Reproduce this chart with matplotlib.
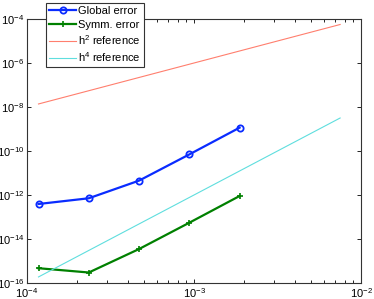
import numpy as np
import matplotlib
matplotlib.use("Agg")
import matplotlib.pyplot as plt
from matplotlib.ticker import LogLocator, LogFormatterMathtext, NullLocator

plt.rcParams['font.family'] = ['Liberation Sans', 'DejaVu Sans']
plt.rcParams['mathtext.fontset'] = 'custom'
plt.rcParams['mathtext.rm'] = 'Liberation Sans'
plt.rcParams['mathtext.it'] = 'Liberation Sans'

# step sizes
h_ref = [7.5e-3, 3.75e-3, 1.875e-3, 9.375e-4, 4.6875e-4, 2.34375e-4, 1.171875e-4]
h_err = [1.171875e-4, 2.34375e-4, 4.6875e-4, 9.375e-4, 1.875e-3]

# errors
global_err = [3.9e-13, 7.1e-13, 4.5e-12, 7.0e-11, 1.15e-9]
symm_err = [4.7e-16, 3.0e-16, 3.5e-15, 5.5e-14, 9.0e-13]

h2_ref = [h ** 2 for h in h_ref]
h4_ref = [h ** 4 for h in h_ref]

fig = plt.figure(figsize=(3.74, 2.99), dpi=100)
ax = fig.add_axes([27 / 374, 1 - 283 / 299, (361 - 27) / 374, (283 - 19) / 299])

ax.loglog(h_err, global_err, '-o', color='#0a2cff', lw=1.6, ms=4.5,
          mfc='none', mew=1.3, label='Global error')
ax.loglog(h_err, symm_err, '-+', color='#008000', lw=1.6, ms=5,
          mew=1.2, label='Symm. error')
ax.loglog(h_ref, h2_ref, '-', color='#ff7f6e', lw=0.8, label='$\\mathregular{h^2}$ reference')
ax.loglog(h_ref, h4_ref, '-', color='#5fdede', lw=0.8, label='$\\mathregular{h^4}$ reference')

ax.set_xlim(1e-4, 1e-2)
ax.set_ylim(1e-16, 1e-4)
ax.set_yticks([1e-16, 1e-14, 1e-12, 1e-10, 1e-8, 1e-6, 1e-4])
ax.yaxis.set_minor_locator(NullLocator())
ax.xaxis.set_major_locator(LogLocator(base=10, numticks=10))
ax.xaxis.set_minor_locator(LogLocator(base=10, subs=np.arange(2, 10), numticks=20))
ax.xaxis.set_major_formatter(LogFormatterMathtext())
ax.yaxis.set_major_formatter(LogFormatterMathtext())

ax.tick_params(which='both', direction='in', top=True, right=True, labelsize=8, pad=2)
ax.tick_params(which='major', length=3, width=0.6)
ax.tick_params(which='minor', length=2, width=0.6)
for s in ax.spines.values():
    s.set_linewidth(0.8)
    s.set_color('#333333')

leg = ax.legend(loc='upper left', bbox_to_anchor=(46 / 374, 1 - 3 / 299),
                bbox_transform=fig.transFigure, borderaxespad=0, fontsize=8,
                fancybox=False, framealpha=1, edgecolor='#333333',
                handlelength=2.4, handletextpad=0.2, labelspacing=0.3,
                borderpad=0.3)
leg.get_frame().set_linewidth(0.8)

fig.savefig('out.png', dpi=100)
